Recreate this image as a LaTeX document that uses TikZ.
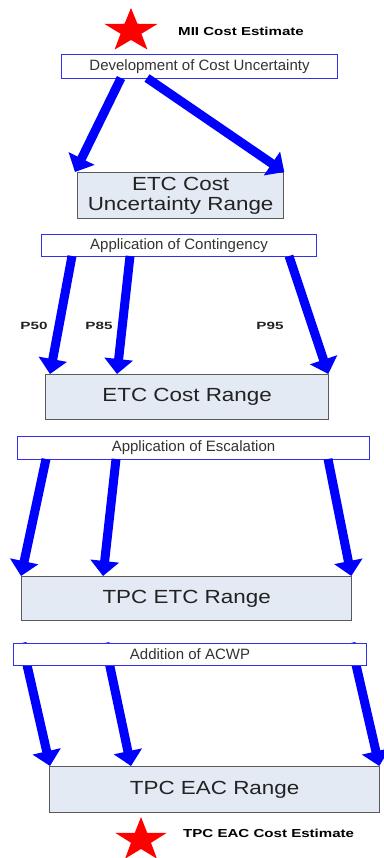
\documentclass[tikz,border=0pt]{standalone}
\usepackage{fontspec}
\setmainfont{Liberation Sans}
\newfontfamily\bigfont[FakeStretch=1.18]{Liberation Sans}
\newfontfamily\lblfont[FakeStretch=1.3]{Liberation Sans}
\newfontfamily\pfont[FakeStretch=1.45]{Liberation Sans}
\usetikzlibrary{arrows.meta,calc,backgrounds}
\definecolor{rangefill}{HTML}{E4EAF4}
\definecolor{rangeborder}{HTML}{5A5A5A}
\definecolor{boxblue}{HTML}{3030F0}
\definecolor{arrowblue}{HTML}{0000FF}
\definecolor{txtgray}{HTML}{333333}
\definecolor{txtdark}{HTML}{222222}
\begin{document}
\begin{tikzpicture}[x=1pt,y=-1pt,
  appbox/.style={draw=boxblue, line width=1pt, fill=white, anchor=north west, inner sep=0pt,
    font=\fontsize{15}{17}\selectfont, text=txtgray},
  rangebox/.style={draw=rangeborder, line width=1.3pt, fill=rangefill, anchor=north west, inner sep=0pt,
    font=\bigfont\fontsize{19}{23}\selectfont, text=txtdark, align=center},
  bigarrow/.style={draw=arrowblue, line width=9pt, -{Triangle[width=28pt,length=15pt]}},
  estlabel/.style={anchor=west, inner sep=0pt, text=black, font=\lblfont\bfseries\fontsize{11.6}{13}\selectfont},
  plabel/.style={inner sep=0pt, text=txtdark, font=\pfont\bfseries\fontsize{10.5}{12}\selectfont},
  starshape/.style={fill=red}
]
\useasboundingbox (0,0) rectangle (383,858);

% stars
\fill[starshape, shift={(131,31)}, xscale=28, yscale=23]
  (270:1) -- (306:0.39) -- (342:1) -- (18:0.39) -- (54:1) -- (90:0.39)
  -- (126:1) -- (162:0.39) -- (198:1) -- (234:0.39) -- cycle;
\fill[starshape, shift={(141,840)}, xscale=27, yscale=23]
  (270:1) -- (306:0.39) -- (342:1) -- (18:0.39) -- (54:1) -- (90:0.39)
  -- (126:1) -- (162:0.39) -- (198:1) -- (234:0.39) -- cycle;

\node[estlabel] (mii) at (178,31) {MII Cost Estimate};
\node[estlabel] (tpceac) at (183,833) {TPC EAC Cost Estimate};

% boxes
\node[appbox, minimum width=276pt, minimum height=24pt] (dev) at (61,54) {Development of Cost Uncertainty};
\node[rangebox, minimum width=206pt, minimum height=46pt] (unc) at (77,172) {ETC Cost\\[-3pt]Uncertainty Range};
\node[appbox, minimum width=275pt, minimum height=22pt] (cont) at (41,234) {Application of Contingency};
\node[rangebox, minimum width=283pt, minimum height=45pt] (etc) at (45,374) {ETC Cost Range};
\node[appbox, minimum width=352pt, minimum height=23pt] (esc) at (17,436) {Application of Escalation};
\node[rangebox, minimum width=330pt, minimum height=44pt] (tpcetc) at (21,576) {TPC ETC Range};
\node[appbox, minimum width=353pt, minimum height=22pt] (acwp) at (13,643) {Addition of ACWP};
\node[rangebox, minimum width=330pt, minimum height=46pt] (eac) at (49,766) {TPC EAC Range};

% arrows
\draw[bigarrow] ($(dev.south west)+(60,-1)$) -- ($(unc.north west)+(-2,0)$);
\draw[bigarrow] ($(dev.south west)+(86,-1)$) -- ($(unc.north east)+(0,0)$);

\draw[bigarrow] ($(cont.south west)+(31,-1)$) -- ($(etc.north west)+(5,0)$);
\draw[bigarrow] ($(cont.south west)+(89,-1)$) -- ($(etc.north west)+(72,0)$);
\draw[bigarrow] ($(cont.south west)+(248,-1)$) -- ($(etc.north east)+(-1,0)$);

\draw[bigarrow] ($(esc.south west)+(29,-1)$) -- ($(tpcetc.north west)+(0,0)$);
\draw[bigarrow] ($(esc.south west)+(99,-1)$) -- ($(tpcetc.north west)+(82,0)$);
\draw[bigarrow] ($(esc.south west)+(311,-1)$) -- ($(tpcetc.north east)+(-1,0)$);

\begin{scope}[on background layer]
\draw[bigarrow] ($(acwp.north west)+(9,0)$) -- ($(eac.north west)+(1,0)$);
\draw[bigarrow] ($(acwp.north west)+(92,0)$) -- ($(eac.north west)+(82,0)$);
\draw[bigarrow] ($(acwp.north west)+(338,0)$) -- ($(eac.north east)+(-1,0)$);
\end{scope}

% percentile labels
\node[plabel] (p50) at (34,326) {P50};
\node[plabel] (p85) at (99,326) {P85};
\node[plabel] (p95) at (270,326) {P95};
\end{tikzpicture}
\end{document}
